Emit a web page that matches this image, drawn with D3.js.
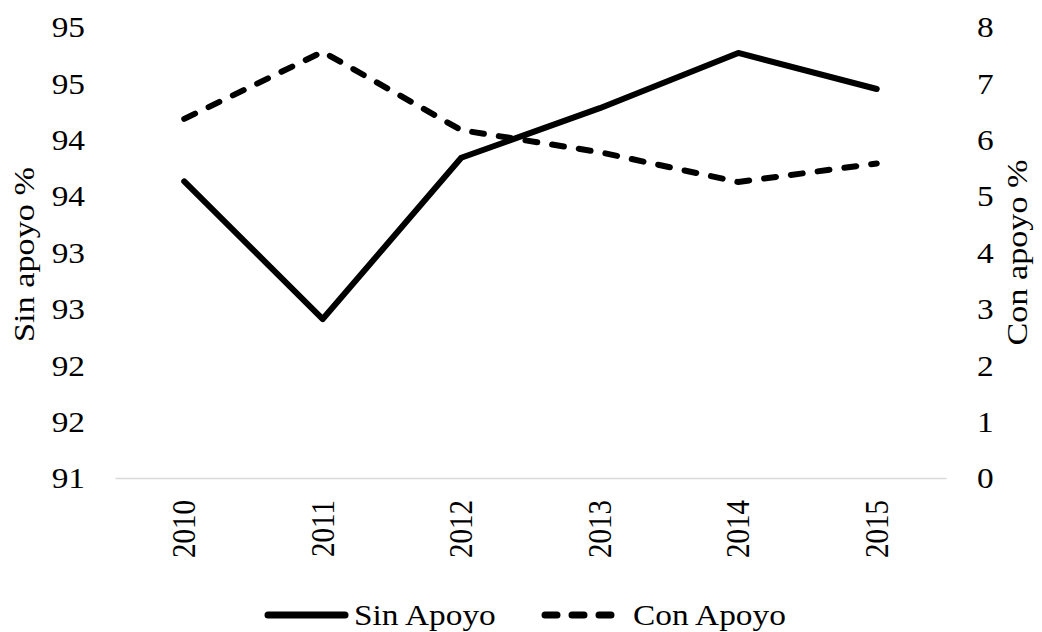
<!DOCTYPE html>
<html>
<head>
<meta charset="utf-8">
<script src="https://cdn.jsdelivr.net/npm/d3@7"></script>
<style>
  html, body { margin: 0; padding: 0; background: #fff; }
  svg { display: block; }
</style>
</head>
<body>
<svg id="chart" width="1042" height="632"></svg>
<script>
// Years on the category axis
const years = ["2010", "2011", "2012", "2013", "2014", "2015"];
// Left axis series (%)
const sinApoyo = [93.63, 92.41, 93.84, 94.28, 94.77, 94.45];
// Right axis series (%)
const conApoyo = [6.37, 7.56, 6.17, 5.78, 5.25, 5.58];
// Axis tick values
const leftTicks = [91, 91.5, 92, 92.5, 93, 93.5, 94, 94.5, 95];
const rightTicks = [0, 1, 2, 3, 4, 5, 6, 7, 8];
const seriesNames = ["Sin Apoyo", "Con Apoyo"];
const axisTitles = ["Sin apoyo %", "Con apoyo %"];

const FONT = "'Liberation Serif', 'Times New Roman', serif";
const FS = 29;      // font size
const SX = 1.15;    // glyphs are drawn slightly wide

const svg = d3.select("#chart");
const margin = { left: 115, right: 96, top: 27, bottom: 154 };
const W = 1042, H = 632;
const plotW = W - margin.left - margin.right;
const plotH = H - margin.top - margin.bottom;

const x = d3.scaleBand().domain(years).range([margin.left, margin.left + plotW]);
const yL = d3.scaleLinear().domain([91, 95]).range([margin.top + plotH, margin.top]);
const yR = d3.scaleLinear().domain([0, 8]).range([margin.top + plotH, margin.top]);

// Tick labels rounded to whole numbers (half away from zero)
const roundLabel = v => String(Math.round(v));

function styleText(sel) {
  sel.style("font-family", FONT).style("font-size", FS + "px").style("fill", "#000");
}

// Left axis
const gL = svg.append("g")
  .attr("transform", `translate(${margin.left},0)`)
  .call(d3.axisLeft(yL).tickValues(leftTicks).tickFormat(roundLabel).tickSize(0));
gL.select(".domain").remove();
gL.selectAll(".tick text")
  .call(styleText)
  .attr("x", 0).attr("dy", "0.34em")
  .attr("text-anchor", "end")
  .attr("transform", `translate(-30,0) scale(${SX},1)`);

// Right axis
const gR = svg.append("g")
  .attr("transform", `translate(${margin.left + plotW},0)`)
  .call(d3.axisRight(yR).tickValues(rightTicks).tickFormat(d3.format("d")).tickSize(0));
gR.select(".domain").remove();
gR.selectAll(".tick text")
  .call(styleText)
  .attr("x", 0).attr("dy", "0.34em")
  .attr("text-anchor", "start")
  .attr("transform", `translate(31,0) scale(${SX},1)`);

// Bottom axis with rotated year labels
const gB = svg.append("g")
  .attr("transform", `translate(0,${margin.top + plotH})`)
  .call(d3.axisBottom(x).tickSize(0));
gB.select(".domain").attr("stroke", "#d9d9d9").attr("stroke-width", 1.5);
gB.selectAll(".tick text")
  .call(styleText)
  .attr("x", 0).attr("y", 0).attr("dy", null)
  .attr("text-anchor", "end")
  .attr("transform", `translate(11,22) scale(${SX},1) rotate(-90)`);

// Series lines
const cx = i => x(years[i]) + x.bandwidth() / 2;
const lineL = d3.line().x((d, i) => cx(i)).y(d => yL(d));
const lineR = d3.line().x((d, i) => cx(i)).y(d => yR(d));

svg.append("path")
  .datum(sinApoyo)
  .attr("d", lineL)
  .attr("fill", "none")
  .attr("stroke", "#000")
  .attr("stroke-width", 6)
  .attr("stroke-linejoin", "round")
  .attr("stroke-linecap", "round");

svg.append("path")
  .datum(conApoyo)
  .attr("d", lineR)
  .attr("fill", "none")
  .attr("stroke", "#000")
  .attr("stroke-width", 6)
  .attr("stroke-dasharray", "12,15")
  .attr("stroke-linejoin", "round")
  .attr("stroke-linecap", "round");

// Axis titles
svg.append("text")
  .call(styleText)
  .attr("text-anchor", "middle")
  .attr("transform", `translate(34,${margin.top + plotH / 2 + 2}) scale(1,1.18) rotate(-90)`)
  .text(axisTitles[0]);

svg.append("text")
  .call(styleText)
  .attr("text-anchor", "middle")
  .attr("transform", `translate(1027,${margin.top + plotH / 2}) scale(1,1.18) rotate(-90)`)
  .text(axisTitles[1]);

// Legend
const legY = 615;
const leg = svg.append("g");
leg.append("line")
  .attr("x1", 268).attr("x2", 345).attr("y1", legY).attr("y2", legY)
  .attr("stroke", "#000").attr("stroke-width", 7).attr("stroke-linecap", "round");
leg.append("text")
  .call(styleText)
  .attr("dy", "0.34em")
  .attr("transform", `translate(354,${legY}) scale(${SX},1)`)
  .text(seriesNames[0]);
leg.append("line")
  .attr("x1", 545).attr("x2", 613).attr("y1", legY).attr("y2", legY)
  .attr("stroke", "#000").attr("stroke-width", 7)
  .attr("stroke-dasharray", "12,15").attr("stroke-linecap", "round");
leg.append("text")
  .call(styleText)
  .attr("dy", "0.34em")
  .attr("transform", `translate(633,${legY}) scale(${SX},1)`)
  .text(seriesNames[1]);
</script>
</body>
</html>
